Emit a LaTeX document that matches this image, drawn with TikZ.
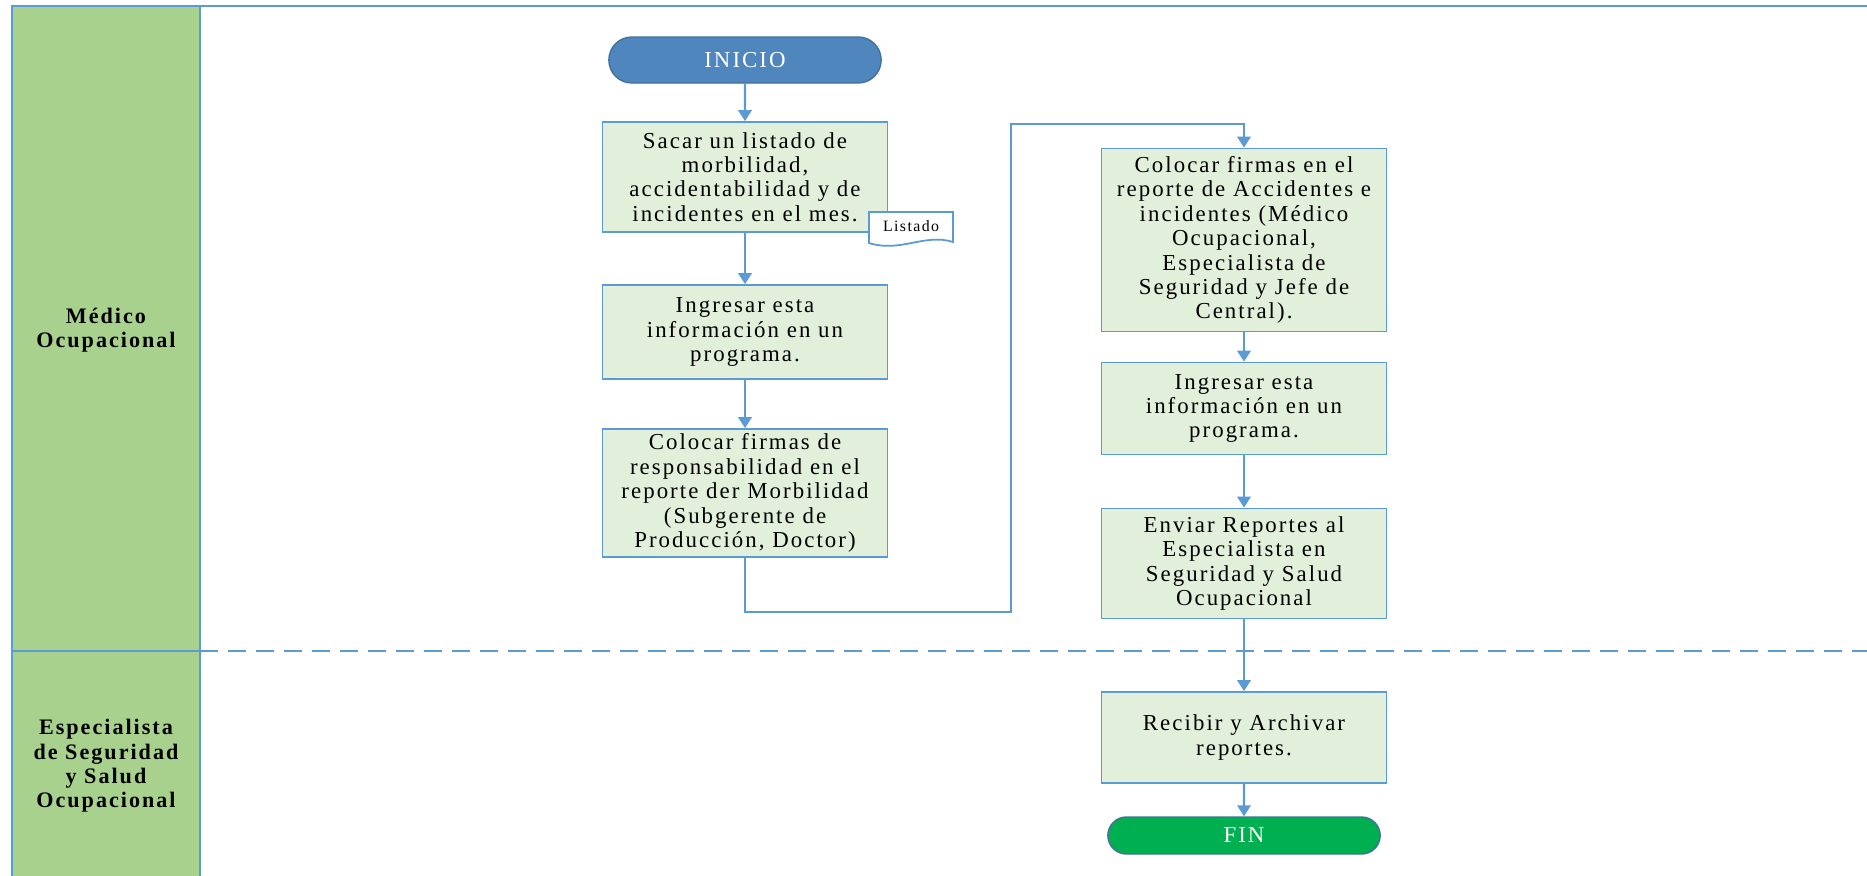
\documentclass[tikz,border=0pt]{standalone}
\usepackage{fontspec}
\setmainfont{Liberation Serif}[LetterSpace=9]
\usepackage{tikz}
\usetikzlibrary{arrows.meta}
\usetikzlibrary{calc}
\usetikzlibrary{shapes.misc}
\definecolor{lineblue}{HTML}{5B9BD5}
\definecolor{lanegreen}{HTML}{A9D18E}
\definecolor{boxgreen}{HTML}{E2EFDA}
\definecolor{startblue}{HTML}{4F86BE}
\definecolor{startedge}{HTML}{41719C}
\definecolor{endgreen}{HTML}{00B050}
\tikzstyle{block} = [draw=lineblue, line width=1pt,
	fill=boxgreen,
	minimum width = 5.7cm,
	align=center, inner sep=0pt,
	font=\fontsize{13}{13.9}\selectfont]
\tikzstyle{terminal} = [draw=startedge, line width=0.8pt,
	rounded rectangle,
	minimum width = 5.68cm,
	text=white,
	font=\fontsize{13}{13.9}\selectfont]
\tikzstyle{lanetitle} = [align=center, font=\fontsize{12.6}{13.9}\selectfont\bfseries]
\tikzstyle{laneline} = [draw=lineblue, line width=1pt]
\tikzstyle{arrow} =[-{Triangle[length=2.2mm, width=2.7mm]}, draw=lineblue, line width=1.2pt]

\begin{document}
\begin{tikzpicture}
			\useasboundingbox (0,0) rectangle (37.34,-17.52);
			
			%carriles
			\fill [lanegreen] (0.24,-0.12) rectangle (4.0,-17.52);
			\draw [laneline] (0.24,-17.52) -- (0.24,-0.12) -- (37.34,-0.12);
			\draw [laneline] (4.0,-0.12) -- (4.0,-17.52);
			\draw [laneline] (0.24,-13.02) -- (4.0,-13.02);
			\draw [laneline, dash pattern=on 0.36cm off 0.2cm] (4.0,-13.02) -- (37.34,-13.02);
			\node (medico) [lanetitle] at (2.12,-6.6) {Médico\\Ocupacional};
			\node (especialista) [lanetitle] at (2.12,-15.32) {Especialista\\de Seguridad\\y Salud\\Ocupacional};
			
			%primera columna
			\node (inicio) [terminal, fill=startblue, minimum height=0.92cm] at (14.9,-1.2) {INICIO};
			\node (listar) [block, minimum height=2.2cm] at (14.9,-3.54) {Sacar un listado de\\morbilidad,\\accidentabilidad y de\\incidentes en el mes.};
			\draw [arrow] (inicio) -- (listar);
			
			\draw [lineblue, line width=1pt, fill=white] (17.38,-4.24) -- (19.06,-4.24) -- (19.06,-4.84)
				.. controls (18.5,-4.66) and (18.0,-5.06) .. (17.38,-4.86) -- cycle;
			\node (listado) [font=\fontsize{9}{10}\selectfont] at (18.22,-4.53) {Listado};
			
			\node (ingresar) [block, minimum height=1.88cm] at (14.9,-6.64) {Ingresar esta\\información en un\\programa.};
			\draw [arrow] (listar) -- (ingresar);
			
			\node (firmar) [block, minimum height=2.56cm] at (14.9,-9.86) {Colocar firmas de\\responsabilidad en el\\reporte der Morbilidad\\(Subgerente de\\Producción, Doctor)};
			\draw [arrow] (ingresar) -- (firmar);
			
			%segunda columna
			\node (firmaracc) [block, minimum height=3.66cm] at (24.88,-4.8) {Colocar firmas en el\\reporte de Accidentes e\\incidentes (Médico\\Ocupacional,\\Especialista de\\Seguridad y Jefe de\\Central).};
			\coordinate (salto) at (20.22,-2.48);
			\draw [arrow] (firmar.south) -- ++(0,-1.08) -| (salto) -| (firmaracc.north);
			
			\node (ingresar2) [block, minimum height=1.84cm] at (24.88,-8.17) {Ingresar esta\\información en un\\programa.};
			\draw [arrow] (firmaracc) -- (ingresar2);
			
			\node (enviar) [block, minimum height=2.2cm] at (24.88,-11.27) {Enviar Reportes al\\Especialista en\\Seguridad y Salud\\Ocupacional};
			\draw [arrow] (ingresar2) -- (enviar);
			
			\node (recibir) [block, minimum height=1.82cm] at (24.88,-14.75) {Recibir y Archivar\\reportes.};
			\draw [arrow] (enviar) -- (recibir);
			
			\node (fin) [terminal, fill=endgreen, minimum height=0.74cm] at (24.88,-16.71) {FIN};
			\draw [arrow] (recibir) -- (fin);
		\end{tikzpicture}
\end{document}
